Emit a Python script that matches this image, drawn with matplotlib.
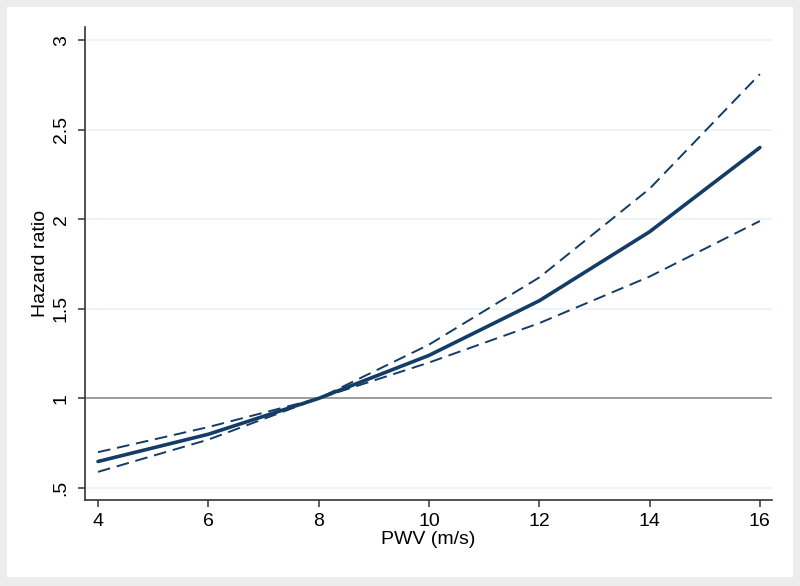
import numpy as np
import matplotlib as mpl
import matplotlib.pyplot as plt

plt.rcParams['font.family'] = ['Liberation Sans', 'DejaVu Sans']

# PWV (m/s) and hazard ratio estimates with confidence bounds
pwv = [4, 6, 8, 10, 12, 14, 16]
hr = [0.648, 0.80, 1.0, 1.24, 1.545, 1.93, 2.40]
hr_upper = [0.70, 0.84, 1.0, 1.30, 1.675, 2.17, 2.81]
hr_lower = [0.59, 0.77, 1.0, 1.20, 1.42, 1.68, 1.99]

yticks = [0.5, 1, 1.5, 2, 2.5, 3]
ytick_labels = ['.5', '1', '1.5', '2', '2.5', '3']
xticks = [4, 6, 8, 10, 12, 14, 16]

NAVY = '#133c66'
FONTSIZE = 14

fig = plt.figure(figsize=(8, 5.86), dpi=100)
fig.patch.set_facecolor('#ececec')
# white inner panel (Stata style)
fig.patches.append(mpl.patches.Rectangle((7/800, 9/586), 786/800, 570/586,
                                         transform=fig.transFigure,
                                         facecolor='white', edgecolor='none',
                                         zorder=-5))

ax1 = fig.add_axes([85/800, 86/586, 687/800, 473/586])
ax1.set_facecolor('none')

for yt in yticks:
    if yt != 1:
        ax1.axhline(yt, color='#eaf2f3', linewidth=1.2, zorder=1)
ax1.axhline(1, color='#8c8c8c', linewidth=1.2, zorder=2)

ax1.plot(pwv, hr_upper, color=NAVY, linestyle=(0, (6.5, 3.5)), linewidth=1.4, zorder=3)
ax1.plot(pwv, hr_lower, color=NAVY, linestyle=(0, (6.5, 3.5)), linewidth=1.4, zorder=3)
ax1.plot(pwv, hr, color=NAVY, linestyle='-', linewidth=2.6, zorder=4,
         solid_capstyle='round')

ax1.set_xlim(3.764, 16.22)
ax1.set_ylim(0.433, 3.073)
ax1.set_xticks(xticks)
ax1.set_yticks(yticks)
ax1.set_yticklabels(ytick_labels, rotation=90, va='center')

for side in ['top', 'right']:
    ax1.spines[side].set_visible(False)
for side in ['left', 'bottom']:
    ax1.spines[side].set_color('#333333')
    ax1.spines[side].set_linewidth(1.2)

ax1.tick_params(axis='both', direction='out', length=5, width=1.1,
                color='#333333', labelsize=FONTSIZE, pad=4)
ax1.tick_params(axis='y', pad=6)
ax1.set_xlabel('PWV (m/s)', fontsize=FONTSIZE, labelpad=1)
ax1.set_ylabel('Hazard ratio', fontsize=FONTSIZE, labelpad=3)

fig.savefig('out.png', dpi=100, facecolor=fig.get_facecolor())
